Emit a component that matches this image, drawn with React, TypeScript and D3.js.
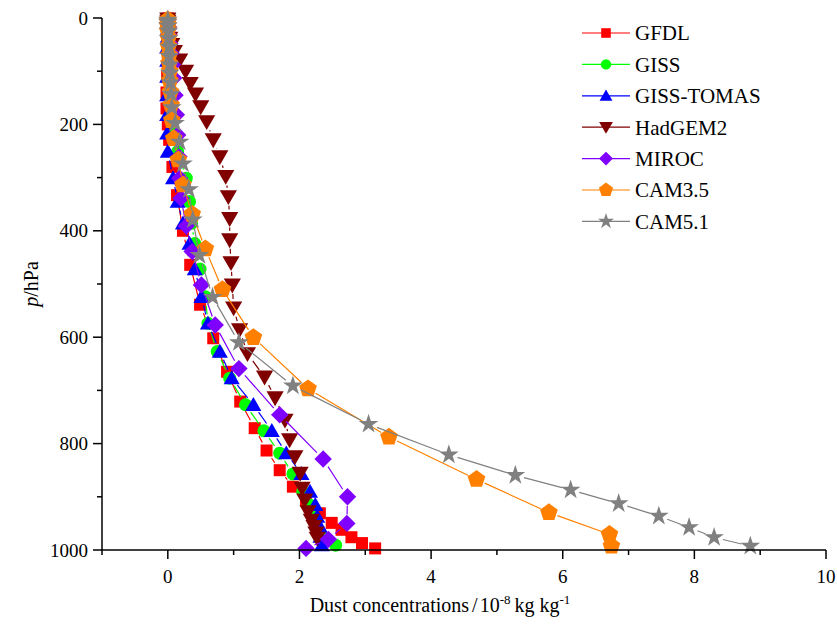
import React from "react";
import * as d3 from "d3";

// pressure levels (hPa) and dust concentrations (10^-8 kg/kg) per model
const gfdlP = [1, 3, 7, 13, 21, 31, 43, 57, 73, 91, 111, 140, 170, 200, 229, 280, 333, 400, 464, 539, 602, 665, 721, 771, 813, 850, 881, 906, 931, 949, 962, 976, 987, 997];
const gfdlX = [0, 0, 0, 0, 0, 0, 0, 0, 0, 0, -0.01, -0.02, -0.02, 0, 0.02, 0.07, 0.14, 0.23, 0.34, 0.49, 0.69, 0.9, 1.1, 1.32, 1.5, 1.7, 1.9, 2.1, 2.31, 2.49, 2.64, 2.79, 2.95, 3.15];

const gissP = [3, 10, 20, 35, 55, 80, 110, 145, 182, 217, 251, 301, 345, 386, 424, 472, 524, 574, 627, 677, 727, 776, 818, 857, 890, 915, 937, 956, 975, 991];
const gissX = [0, 0, 0, 0, 0, 0.01, 0.02, 0.04, 0.07, 0.1, 0.15, 0.28, 0.33, 0.36, 0.41, 0.49, 0.57, 0.61, 0.75, 0.94, 1.18, 1.46, 1.7, 1.9, 2.05, 2.15, 2.21, 2.26, 2.33, 2.55];
const tomasX = [0, 0, 0, 0, -0.01, -0.01, -0.01, -0.01, -0.01, -0.01, 0, 0.08, 0.15, 0.23, 0.33, 0.41, 0.51, 0.61, 0.79, 0.97, 1.3, 1.58, 1.8, 2.03, 2.16, 2.24, 2.27, 2.31, 2.32, 2.34];

const hadP = [2, 6, 12, 20, 28, 38, 50, 63, 79, 100, 123, 143, 167, 195, 229, 261, 298, 336, 377, 417, 460, 502, 545, 586, 631, 675, 714, 756, 793, 825, 856, 884, 906, 928, 944, 956, 968, 978];
const hadX = [0, 0, 0, 0, 0.01, 0.03, 0.06, 0.1, 0.18, 0.27, 0.34, 0.42, 0.5, 0.59, 0.69, 0.79, 0.88, 0.92, 0.94, 0.94, 0.96, 0.98, 1.0, 1.09, 1.21, 1.47, 1.63, 1.78, 1.85, 1.93, 2.01, 2.04, 2.08, 2.13, 2.18, 2.22, 2.25, 2.27];

const mirocP = [3, 10, 20, 32, 48, 66, 88, 113, 145, 182, 220, 261, 301, 339, 391, 439, 502, 577, 659, 746, 829, 900, 950, 980, 997];
const mirocX = [0, 0, 0.01, 0.02, 0.03, 0.05, 0.07, 0.09, 0.11, 0.13, 0.15, 0.17, 0.18, 0.2, 0.28, 0.37, 0.51, 0.72, 1.08, 1.7, 2.36, 2.73, 2.72, 2.44, 2.1];

const cam35P = [3.5, 7.4, 14.0, 23.9, 37.2, 53.1, 70.1, 85.4, 100.5, 118.3, 139.1, 163.7, 192.5, 226.5, 266.5, 313.5, 368.8, 433.9, 510.5, 600.5, 696.8, 787.7, 867.2, 929.6, 970.6, 992.6];
const cam35X = [0, 0, 0, 0, 0.01, 0.01, 0.02, 0.02, 0.03, 0.03, 0.04, 0.05, 0.06, 0.09, 0.16, 0.23, 0.37, 0.57, 0.83, 1.3, 2.13, 3.36, 4.69, 5.79, 6.71, 6.74];

const cam51P = [3.6, 7.6, 14.4, 24.6, 38.3, 54.6, 72.0, 87.8, 103.3, 121.5, 143.0, 168.2, 197.9, 232.8, 273.9, 322.2, 379.1, 446.0, 524.7, 609.8, 691.4, 763.4, 820.9, 859.5, 887.0, 912.6, 936.2, 957.5, 976.3, 992.6];
const cam51X = [0, 0, 0, 0.01, 0.01, 0.02, 0.02, 0.03, 0.03, 0.04, 0.05, 0.06, 0.11, 0.18, 0.23, 0.32, 0.38, 0.48, 0.68, 1.08, 1.9, 3.05, 4.27, 5.28, 6.12, 6.85, 7.46, 7.92, 8.3, 8.85];

const modelNames = ["GFDL", "GISS", "GISS-TOMAS", "HadGEM2", "MIROC", "CAM3.5", "CAM5.1"];
const xTicks = [0, 2, 4, 6, 8, 10];
const yTicks = [0, 200, 400, 600, 800, 1000];

const W = 837, H = 633;
const x = d3.scaleLinear().domain([-1, 10]).range([102, 826]);
const y = d3.scaleLinear().domain([0, 1000]).range([18, 550]);

// simple marker paths centred on 0,0
const polygon = (n: number, r: number, rot: number) =>
  d3.range(n).map(i => {
    const a = rot + (i * 2 * Math.PI) / n;
    return [r * Math.sin(a), -r * Math.cos(a)];
  });
const polyPath = (pts: number[][]) => "M" + pts.map(p => p[0].toFixed(2) + "," + p[1].toFixed(2)).join("L") + "Z";

function markerPath(kind: string, s: number) {
  switch (kind) {
    case "square": return d3.symbol(d3.symbolSquare, s * s)()!;
    case "circle": return d3.symbol(d3.symbolCircle, Math.PI * (s / 2) * (s / 2))()!;
    case "up": return polyPath(polygon(3, s * 0.62, 0).map(p => [p[0], p[1] + s * 0.1]));
    case "down": return polyPath(polygon(3, s * 0.62, Math.PI).map(p => [p[0], p[1] - s * 0.1]));
    case "diamond": return polyPath(polygon(4, s * 0.58, 0));
    case "pentagon": return polyPath(polygon(5, s * 0.58, 0));
    default: return d3.symbol(d3.symbolStar, s * s * 0.42)()!;
  }
}

const series = [
  { name: modelNames[0], p: gfdlP, v: gfdlX, color: "#ff0000", kind: "square", size: 12 },
  { name: modelNames[1], p: gissP, v: gissX, color: "#00ff00", kind: "circle", size: 13 },
  { name: modelNames[2], p: gissP, v: tomasX, color: "#0000ff", kind: "up", size: 15 },
  { name: modelNames[3], p: hadP, v: hadX, color: "#800000", kind: "down", size: 16 },
  { name: modelNames[4], p: mirocP, v: mirocX, color: "#8000ff", kind: "diamond", size: 15 },
  { name: modelNames[5], p: cam35P, v: cam35X, color: "#ff8000", kind: "pentagon", size: 16 },
  { name: modelNames[6], p: cam51P, v: cam51X, color: "#808080", kind: "star", size: 17 },
];

// line segments that stop short of the symbols
function gappedSegments(pts: [number, number][], gap: number) {
  const segs: string[] = [];
  for (let i = 1; i < pts.length; i++) {
    const [x0, y0] = pts[i - 1], [x1, y1] = pts[i];
    const L = Math.hypot(x1 - x0, y1 - y0);
    if (L <= 2 * gap) continue;
    const ux = (x1 - x0) / L, uy = (y1 - y0) / L;
    segs.push(`M${x0 + ux * gap},${y0 + uy * gap}L${x1 - ux * gap},${y1 - uy * gap}`);
  }
  return segs.join("");
}

const font = "'Liberation Serif', 'Times New Roman', serif";

export default function App() {
  const xMinor = d3.range(-1, 11, 1).filter(v => v % 2 !== 0);
  const yMinor = d3.range(100, 1000, 200);
  return (
    <svg width={W} height={H} style={{ position: "absolute", left: 0, top: 0 }} fontFamily={font}>
      <rect width={W} height={H} fill="#fff" />
      {series.map(s => {
        const pts = s.v.map((v, i) => [x(v), y(s.p[i])] as [number, number]);
        const mp = markerPath(s.kind, s.size);
        return (
          <g key={s.name}>
            <path d={gappedSegments(pts, 9)} stroke={s.color} strokeWidth={1.2} fill="none" />
            {pts.map((p, i) => (
              <path key={i} d={mp} transform={`translate(${p[0]},${p[1]})`} fill={s.color} />
            ))}
          </g>
        );
      })}

      {/* axes */}
      <g stroke="#000" strokeWidth={1.5}>
        <line x1={x(-1)} x2={x(10)} y1={y(1000)} y2={y(1000)} />
        <line x1={x(-1)} x2={x(-1)} y1={y(0)} y2={y(1000)} />
        {xTicks.map(t => <line key={"xt" + t} x1={x(t)} x2={x(t)} y1={y(1000)} y2={y(1000) + 9} />)}
        {xMinor.map(t => <line key={"xm" + t} x1={x(t)} x2={x(t)} y1={y(1000)} y2={y(1000) + 5} />)}
        {yTicks.map(t => <line key={"yt" + t} x1={x(-1) - 9} x2={x(-1)} y1={y(t)} y2={y(t)} />)}
        {yMinor.map(t => <line key={"ym" + t} x1={x(-1) - 5} x2={x(-1)} y1={y(t)} y2={y(t)} />)}
      </g>
      {xTicks.map(t => (
        <text key={"xl" + t} x={x(t)} y={y(1000) + 33} textAnchor="middle" fontSize={19}>{t}</text>
      ))}
      {yTicks.map(t => (
        <text key={"yl" + t} x={x(-1) - 14} y={y(t)} dy="0.35em" textAnchor="end" fontSize={19}>{t}</text>
      ))}
      <text x={x(-1) + (x(10) - x(-1)) / 2 - 24} y={612} textAnchor="middle" fontSize={20}>
        Dust concentrations<tspan dx={3}>/</tspan><tspan dx={2}>10</tspan>
        <tspan fontSize={13} dy={-8}>-8</tspan>
        <tspan dy={8} dx={4}>kg kg</tspan>
        <tspan fontSize={13} dy={-8}>-1</tspan>
      </text>
      <text transform={`translate(38,${y(500)}) rotate(-90)`} textAnchor="middle" fontSize={20}>
        <tspan fontStyle="italic">p</tspan>/hPa
      </text>

      {/* legend */}
      {series.map((s, i) => {
        const ly = 33 + i * 31.4;
        return (
          <g key={"lg" + s.name}>
            <line x1={582} x2={630} y1={ly} y2={ly} stroke={s.color} strokeWidth={1.2} />
            <path d={markerPath(s.kind, s.size * 0.8)} transform={`translate(606,${ly})`} fill={s.color} />
            <text x={635} y={ly} dy="0.35em" fontSize={21}>{s.name}</text>
          </g>
        );
      })}
    </svg>
  );
}
